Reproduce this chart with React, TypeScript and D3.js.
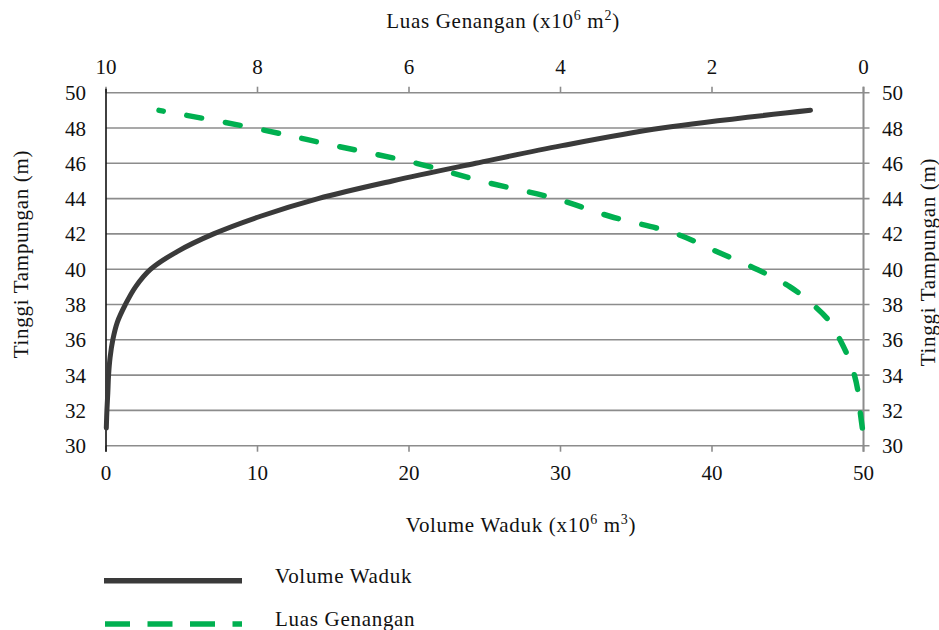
import React from "react";
import * as d3 from "d3";

const heights = [31, 32, 33, 34, 35, 36, 37, 38, 39, 40, 41, 42, 43, 44, 45, 46, 47, 48, 49];
const volume = [0.02, 0.06, 0.12, 0.17, 0.27, 0.45, 0.75, 1.28, 1.95, 2.95, 4.7, 7.1, 10.2, 14.0, 18.9, 24.4, 30.1, 36.7, 46.5];
const area = [0.015, 0.046, 0.07, 0.12, 0.2, 0.31, 0.44, 0.67, 0.97, 1.41, 1.94, 2.47, 3.35, 4.07, 5.05, 5.9, 6.98, 8.05, 9.3];
const yTicks = [30, 32, 34, 36, 38, 40, 42, 44, 46, 48, 50];
const xTicks = [0, 10, 20, 30, 40, 50];
const topTicks = [10, 8, 6, 4, 2, 0];

const FONT = "'Liberation Serif', 'DejaVu Serif', serif";

export default function App() {
  const W = 939, H = 630;
  const L = 106, R = 863.5, T = 92.7, B = 445.7;
  const x = d3.scaleLinear().domain([0, 50]).range([L, R]);
  const xTop = d3.scaleLinear().domain([10, 0]).range([L, R]);
  const y = d3.scaleLinear().domain([30, 50]).range([B, T]);

  const lineV = d3.line<number>()
    .x((_, i) => x(volume[i]))
    .y((h) => y(h))
    .curve(d3.curveCatmullRom.alpha(0.5));
  const lineA = d3.line<number>()
    .x((_, i) => xTop(area[i]))
    .y((h) => y(h))
    .curve(d3.curveCatmullRom.alpha(0.5));

  const grid = "#8c8c8c";
  const fs = 21;
  const ls = 0.7;
  const txt = "#111";

  return (
    <svg width={W} height={H} style={{ display: "block", position: "absolute", left: 0, top: 0 }} fontFamily={FONT}>
      <rect width={W} height={H} fill="#fff" />
      {yTicks.map((t) => (
        <g key={"g" + t}>
          <line x1={L} x2={R + 6} y1={y(t)} y2={y(t)} stroke={grid} strokeWidth={1.6} />
          <text x={86} y={y(t) + 7.5} textAnchor="end" fontSize={fs} fill={txt}>{t}</text>
          <text x={882} y={y(t) + 7.5} textAnchor="start" fontSize={fs} fill={txt}>{t}</text>
        </g>
      ))}
      {xTicks.map((t) => (
        <g key={"x" + t}>
          <line x1={x(t)} x2={x(t)} y1={B} y2={B + 6} stroke={grid} strokeWidth={1.6} />
          <text x={x(t)} y={480} textAnchor="middle" fontSize={fs} fill={txt}>{t}</text>
        </g>
      ))}
      {topTicks.map((t) => (
        <g key={"t" + t}>
          <line x1={xTop(t)} x2={xTop(t)} y1={T} y2={T - 6} stroke={grid} strokeWidth={1.6} />
          <text x={xTop(t)} y={74} textAnchor="middle" fontSize={fs} fill={txt}>{t}</text>
        </g>
      ))}
      <line x1={R} x2={R} y1={T - 6} y2={B + 6} stroke={grid} strokeWidth={2} />
      <line x1={L} x2={L} y1={T - 4} y2={B + 6} stroke="#111" strokeWidth={1.6} />

      <path d={lineA(heights) || ""} fill="none" stroke="#00b050" strokeWidth={5.5}
        strokeDasharray="15,24" strokeLinecap="round" />
      <path d={lineV(heights) || ""} fill="none" stroke="#3a3a3a" strokeWidth={5}
        strokeLinecap="round" />

      <text x={503} y={28} textAnchor="middle" fontSize={fs} fill={txt} letterSpacing={ls}>
        Luas Genangan (x10<tspan fontSize={14} dy={-8}>6</tspan><tspan dy={8}> m</tspan><tspan fontSize={14} dy={-8}>2</tspan><tspan dy={8}>)</tspan>
      </text>
      <text x={521} y={532} textAnchor="middle" fontSize={fs} fill={txt} letterSpacing={ls}>
        Volume Waduk (x10<tspan fontSize={14} dy={-8}>6</tspan><tspan dy={8}> m</tspan><tspan fontSize={14} dy={-8}>3</tspan><tspan dy={8}>)</tspan>
      </text>
      <text transform={`translate(28,254) rotate(-90)`} textAnchor="middle" fontSize={fs} fill={txt} letterSpacing={ls}>Tinggi Tampungan (m)</text>
      <text transform={`translate(935,262) rotate(-90)`} textAnchor="middle" fontSize={fs} fill={txt} letterSpacing={ls}>Tinggi Tampungan (m)</text>

      <line x1={104} x2={242} y1={580.7} y2={580.7} stroke="#3a3a3a" strokeWidth={5.5} />
      <line x1={105} x2={242} y1={624} y2={624} stroke="#00b050" strokeWidth={5.5} strokeDasharray="25,17.5" />
      <text x={275} y={583} fontSize={fs} fill={txt} letterSpacing={ls}>Volume Waduk</text>
      <text x={275} y={626} fontSize={fs} fill={txt} letterSpacing={ls}>Luas Genangan</text>
    </svg>
  );
}
